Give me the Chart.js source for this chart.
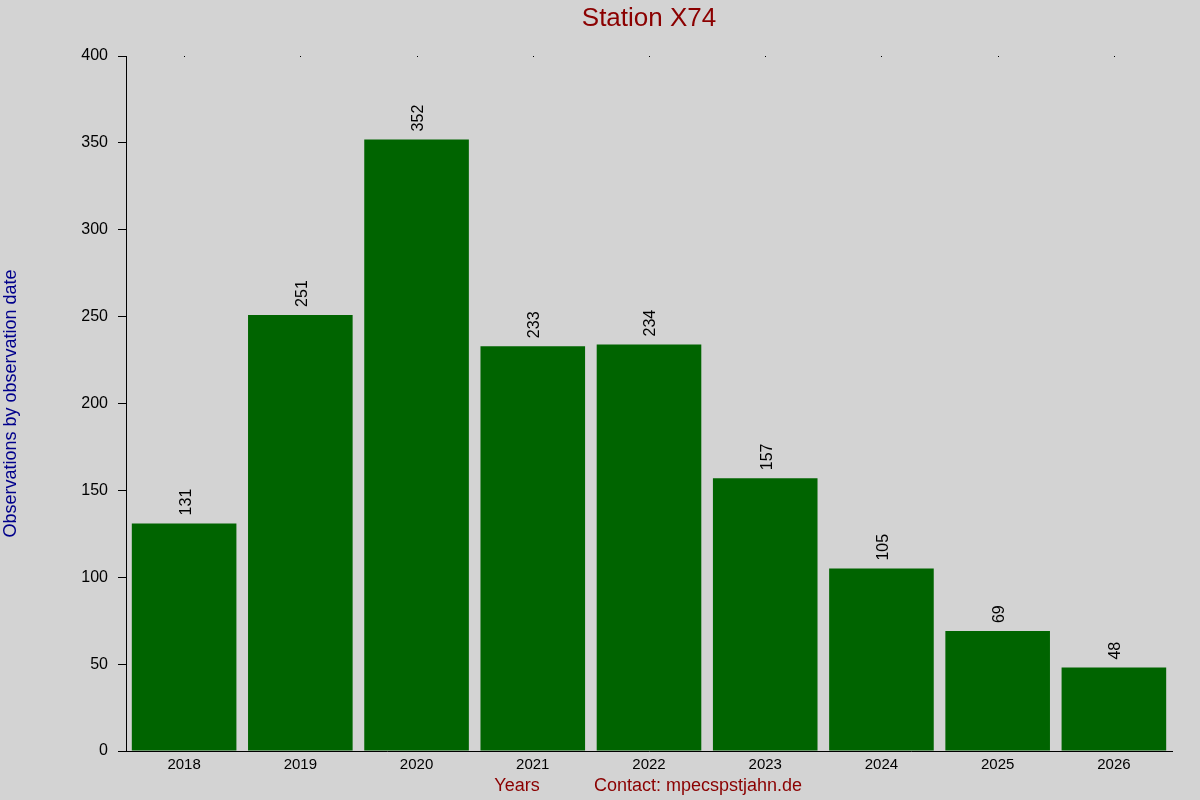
<!DOCTYPE html>
<html>
<head>
<meta charset="utf-8">
<script src="https://cdn.jsdelivr.net/npm/chart.js@4"></script>
<style>
  html, body { margin: 0; padding: 0; background: #d3d3d3; }
  #wrap { width: 1200px; height: 800px; }
</style>
</head>
<body>
<div id="wrap"><canvas id="chart"></canvas></div>
<script>
const years = ['2018', '2019', '2020', '2021', '2022', '2023', '2024', '2025', '2026'];
const observations = [131, 251, 352, 233, 234, 157, 105, 69, 48];
const yTicks = [0, 50, 100, 150, 200, 250, 300, 350, 400];

const FONT = '"Liberation Sans", Arial, sans-serif';

// background, title, bottom captions, value labels and top tick dots
const decorations = {
    id: 'decorations',
    beforeDraw(chart) {
        const ctx = chart.ctx;
        ctx.save();
        ctx.fillStyle = '#d3d3d3';
        ctx.fillRect(0, 0, chart.width, chart.height);
        ctx.restore();
    },
    afterDraw(chart) {
        const ctx = chart.ctx;
        const area = chart.chartArea;
        const x = chart.scales.x;
        const y = chart.scales.y;
        ctx.save();

        ctx.fillStyle = '#8b0000';
        ctx.font = '26px ' + FONT;
        ctx.textAlign = 'center';
        ctx.textBaseline = 'middle';
        ctx.fillText('Station X74', (area.left + area.right) / 2, 19);

        ctx.font = '18px ' + FONT;
        ctx.fillText('Years', 517, 786);
        ctx.fillText('Contact: mpecspstjahn.de', 698, 786);

        ctx.fillStyle = '#000';
        years.forEach((yr, i) => {
            ctx.fillRect(Math.round(x.getPixelForValue(i)), area.top, 1, 1);
        });

        ctx.font = '16px ' + FONT;
        ctx.textAlign = 'left';
        ctx.textBaseline = 'middle';
        observations.forEach((v, i) => {
            const px = x.getPixelForValue(i);
            const py = y.getPixelForValue(v);
            ctx.save();
            ctx.translate(px + 2, py - 8);
            ctx.rotate(-Math.PI / 2);
            ctx.fillText(String(v), 0, 0);
            ctx.restore();
        });
        ctx.restore();
    }
};

new Chart(document.getElementById('chart'), {
    type: 'bar',
    data: {
        labels: years,
        datasets: [{
            data: observations,
            backgroundColor: '#006400',
            borderWidth: 0,
            inflateAmount: 0,
            barPercentage: 0.9,
            categoryPercentage: 1.0
        }]
    },
    options: {
        responsive: true,
        maintainAspectRatio: false,
        animation: false,
        layout: { padding: { top: 56, right: 28, left: 0, bottom: 0 } },
        plugins: {
            legend: { display: false },
            title: { display: false },
            tooltip: { enabled: false }
        },
        scales: {
            x: {
                grid: { display: false, drawTicks: false, tickLength: 0 },
                border: { display: true, color: '#000', width: 1 },
                ticks: {
                    color: '#000',
                    font: { family: FONT, size: 15 },
                    padding: 5,
                    maxRotation: 0
                },
                afterFit(scale) { scale.height = 49; }
            },
            y: {
                min: 0,
                max: 400,
                afterBuildTicks(scale) {
                    scale.ticks = yTicks.map(v => ({ value: v }));
                },
                grid: {
                    drawOnChartArea: false,
                    drawTicks: true,
                    tickLength: 8,
                    color: '#000'
                },
                border: { display: true, color: '#000', width: 1 },
                ticks: {
                    color: '#000',
                    font: { family: FONT, size: 16 },
                    padding: 10
                },
                title: {
                    display: true,
                    text: 'Observations by observation date',
                    color: '#00008b',
                    font: { family: FONT, size: 18 },
                    padding: 0
                },
                afterFit(scale) { scale.width = 126; }
            }
        }
    },
    plugins: [decorations]
});
</script>
</body>
</html>
